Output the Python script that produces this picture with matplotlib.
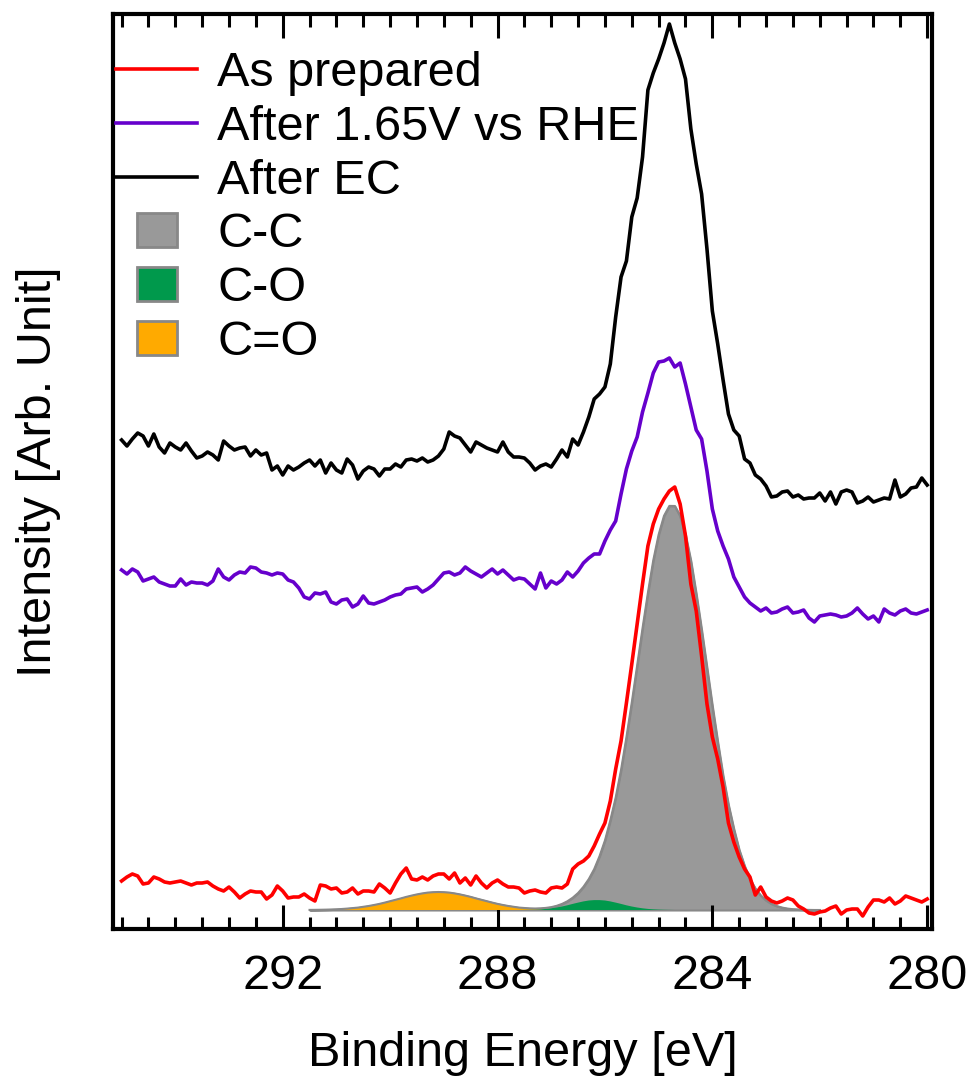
import matplotlib
matplotlib.use('Agg')
import matplotlib.pyplot as plt
import matplotlib.patches as mpatches
from matplotlib.lines import Line2D
from matplotlib.legend_handler import HandlerPatch
from matplotlib.ticker import MultipleLocator
import numpy as np

plt.rcParams['font.family'] = ['Liberation Sans', 'DejaVu Sans']

# binding energy grid of the measured spectra (eV), 0.1 eV steps
energy = np.linspace(295.0, 280.0, 151)

# measured C 1s spectra (arb. units), 295.0 -> 280.0 eV
as_prepared = [48, 52, 55, 53, 45, 46, 52, 50, 47, 46,
               47, 48, 46, 44, 46, 46, 47, 43, 40, 38,
               42, 37, 31, 35, 38, 37, 37, 30, 34, 43,
               38, 31, 32, 32, 35, 31, 28, 44, 43, 40,
               41, 36, 37, 41, 35, 38, 38, 37, 45, 41,
               36, 46, 55, 61, 50, 49, 52, 49, 53, 55,
               55, 50, 56, 46, 51, 44, 53, 46, 41, 46,
               49, 45, 42, 42, 41, 36, 38, 39, 37, 36,
               41, 42, 41, 45, 60, 65, 68, 73, 83, 95,
               106, 128, 160, 188, 226, 265, 305, 345, 383, 405,
               420, 430, 438, 442, 425, 393, 345, 318, 273, 225,
               192, 170, 142, 106, 87, 72, 60, 52, 34, 42,
               32, 28, 26, 28, 31, 29, 23, 20, 16, 15,
               17, 18, 21, 23, 15, 19, 20, 20, 13, 22,
               29, 29, 27, 31, 25, 28, 33, 31, 29, 27,
               30]

after_165v = [359, 355, 360, 357, 348, 350, 352, 347, 345, 343,
              343, 350, 344, 347, 346, 346, 344, 348, 360, 352,
              349, 354, 357, 356, 362, 361, 357, 356, 354, 356,
              355, 349, 347, 341, 332, 330, 336, 335, 337, 327,
              325, 329, 330, 322, 325, 333, 326, 325, 327, 329,
              332, 334, 335, 340, 341, 342, 337, 340, 344, 350,
              356, 357, 354, 356, 362, 358, 355, 352, 356, 360,
              355, 359, 354, 349, 351, 350, 345, 340, 356, 341,
              348, 345, 349, 357, 352, 358, 366, 371, 375, 375,
              388, 399, 408, 435, 460, 478, 492, 517, 536, 556,
              567, 568, 571, 562, 566, 545, 522, 499, 490, 458,
              420, 398, 383, 370, 352, 342, 332, 326, 322, 318,
              321, 316, 317, 320, 322, 316, 317, 319, 311, 307,
              313, 314, 315, 314, 312, 313, 316, 321, 315, 310,
              313, 307, 320, 316, 314, 318, 320, 316, 315, 317,
              319]

after_ec = [489, 483, 490, 496, 493, 483, 495, 482, 476, 486,
            482, 479, 486, 478, 471, 473, 477, 474, 469, 488,
            483, 479, 481, 482, 473, 479, 474, 476, 459, 463,
            454, 463, 459, 462, 466, 469, 463, 469, 456, 466,
            459, 456, 470, 464, 450, 458, 462, 460, 453, 460,
            460, 465, 462, 469, 470, 468, 471, 467, 469, 473,
            480, 497, 493, 491, 484, 477, 487, 484, 481, 479,
            477, 487, 477, 472, 472, 471, 466, 459, 463, 465,
            462, 470, 479, 472, 490, 484, 497, 512, 530, 535,
            542, 565, 612, 652, 668, 712, 731, 772, 839, 856,
            870, 886, 905, 886, 870, 850, 800, 765, 735, 680,
            618, 585, 549, 515, 499, 493, 470, 466, 454, 450,
            443, 432, 433, 437, 438, 432, 434, 430, 431, 431,
            436, 428, 437, 425, 437, 439, 437, 426, 428, 432,
            427, 429, 431, 430, 449, 432, 435, 441, 442, 451,
            444]

# peak fit of the as-prepared spectrum, 291.5 -> 282.0 eV
fit_energy = np.linspace(291.5, 282.0, 96)
fit_base = 19
peak_cc = [0, 0, 0, 0, 0, 0, 0, 0, 0, 0,
           0, 0, 0, 0, 0, 0, 0, 0, 0, 0,
           0, 0, 0, 0, 0, 0, 0, 0, 0, 0,
           0, 0, 0, 0, 0, 0, 0, 0, 0, 0,
           0, 0, 0.1, 0.3, 0.5, 0.8, 1.4, 2.4, 3.9, 6.2,
           9.6, 14.6, 21.5, 31, 44, 60, 81, 105, 134, 168,
           204, 242, 280, 316, 349, 375, 394, 404, 404, 394,
           375, 349, 316, 280, 242, 204, 168, 134, 105, 81,
           60, 44, 31, 21.5, 14.6, 9.6, 6.2, 3.9, 2.4, 1.4,
           0.8, 0.5, 0.3, 0.1, 0, 0]
peak_co = [0, 0, 0, 0, 0, 0, 0, 0, 0, 0,
           0, 0, 0, 0, 0, 0, 0, 0, 0, 0,
           0, 0, 0, 0, 0, 0, 0, 0, 0, 0,
           0, 0, 0, 0, 0, 0, 0, 0, 0, 0,
           0.1, 0.2, 0.38, 0.66, 1.1, 1.7, 2.5, 3.5, 4.7, 6.1,
           7.4, 8.6, 9.5, 9.9, 9.9, 9.5, 8.6, 7.4, 6.1, 4.7,
           3.5, 2.5, 1.7, 1.1, 0.66, 0.38, 0.2, 0.1, 0, 0,
           0, 0, 0, 0, 0, 0, 0, 0, 0, 0,
           0, 0, 0, 0, 0, 0, 0, 0, 0, 0,
           0, 0, 0, 0, 0, 0]
peak_cdo = [0.1, 0.15, 0.24, 0.35, 0.5, 0.7, 1.0, 1.4, 1.9, 2.4,
            3.2, 4.0, 5.0, 6.1, 7.4, 8.8, 10.2, 11.6, 13.1, 14.4,
            15.6, 16.6, 17.4, 17.8, 18.0, 17.8, 17.4, 16.6, 15.6, 14.4,
            13.1, 11.6, 10.2, 8.8, 7.4, 6.1, 5.0, 4.0, 3.2, 2.4,
            1.9, 1.4, 1.0, 0.7, 0.5, 0.35, 0.24, 0.15, 0.1, 0,
            0, 0, 0, 0, 0, 0, 0, 0, 0, 0,
            0, 0, 0, 0, 0, 0, 0, 0, 0, 0,
            0, 0, 0, 0, 0, 0, 0, 0, 0, 0,
            0, 0, 0, 0, 0, 0, 0, 0, 0, 0,
            0, 0, 0, 0, 0, 0]

labels = ['As prepared', 'After 1.65V vs RHE', 'After EC', 'C-C', 'C-O', 'C=O']
line_colors = ['#FF0000', '#6600CC', '#000000']
fill_colors = ['#999999', '#00994C', '#FFAA00']
edge_gray = '#888888'
fs = 35

fig = plt.figure(figsize=(9.7, 10.78), dpi=100)
ax = fig.add_axes([113 / 970, 1 - 929 / 1078, 819 / 970, 915 / 1078])

cc = np.array(peak_cc)
co = np.array(peak_co)
cdo = np.array(peak_cdo)
envelope = fit_base + cc + co + cdo

ax.fill_between(fit_energy, fit_base, envelope, facecolor=fill_colors[0],
                edgecolor=edge_gray, lw=1.5, zorder=1)
ax.fill_between(fit_energy, fit_base, fit_base + cdo, facecolor=fill_colors[2],
                lw=0, zorder=2)
ax.fill_between(fit_energy, fit_base, fit_base + co, facecolor=fill_colors[1],
                lw=0, zorder=2)
ax.plot(fit_energy, envelope, color=edge_gray, lw=1.5, zorder=3)

lw = 2.6
ax.plot(energy, after_ec, color=line_colors[2], lw=lw, zorder=4)
ax.plot(energy, after_165v, color=line_colors[1], lw=lw, zorder=4)
ax.plot(energy, as_prepared, color=line_colors[0], lw=lw, zorder=5)

ax.set_xlim(295.16, 279.91)
ax.set_ylim(0, 915)
ax.xaxis.set_major_locator(MultipleLocator(4))
ax.xaxis.set_minor_locator(MultipleLocator(0.5))
ax.set_yticks([])
ax.tick_params(axis='x', which='both', direction='in', top=True, bottom=True,
               labelsize=fs, pad=18)
ax.tick_params(axis='x', which='major', length=17, width=2.2)
ax.tick_params(axis='x', which='minor', length=9, width=2.2)
for sp in ax.spines.values():
    sp.set_linewidth(3)

ax.set_xlabel('Binding Energy [eV]', fontsize=fs)
ax.xaxis.set_label_coords(0.5, -0.111)
ax.xaxis.label.set_va('top')
ax.set_ylabel('Intensity [Arb. Unit]', fontsize=fs)
ax.yaxis.set_label_coords(-0.063, 0.5)


def small_box(legend, orig_handle, xdescent, ydescent, width, height, fontsize):
    return mpatches.Rectangle((-xdescent + 0.25 * width, -ydescent),
                              0.5 * width, height)


handles = [Line2D([], [], color=c, lw=lw) for c in line_colors]
handles += [mpatches.Patch(facecolor=c, edgecolor=edge_gray, lw=2) for c in fill_colors]
ax.legend(handles, labels, loc='upper left', bbox_to_anchor=(0.004, 0.9595),
          frameon=False, fontsize=fs, borderpad=0, borderaxespad=0,
          handlelength=1.67, handletextpad=0.41, labelspacing=0.18,
          handler_map={mpatches.Patch: HandlerPatch(patch_func=small_box)})

fig.savefig('out.png', dpi=100)
